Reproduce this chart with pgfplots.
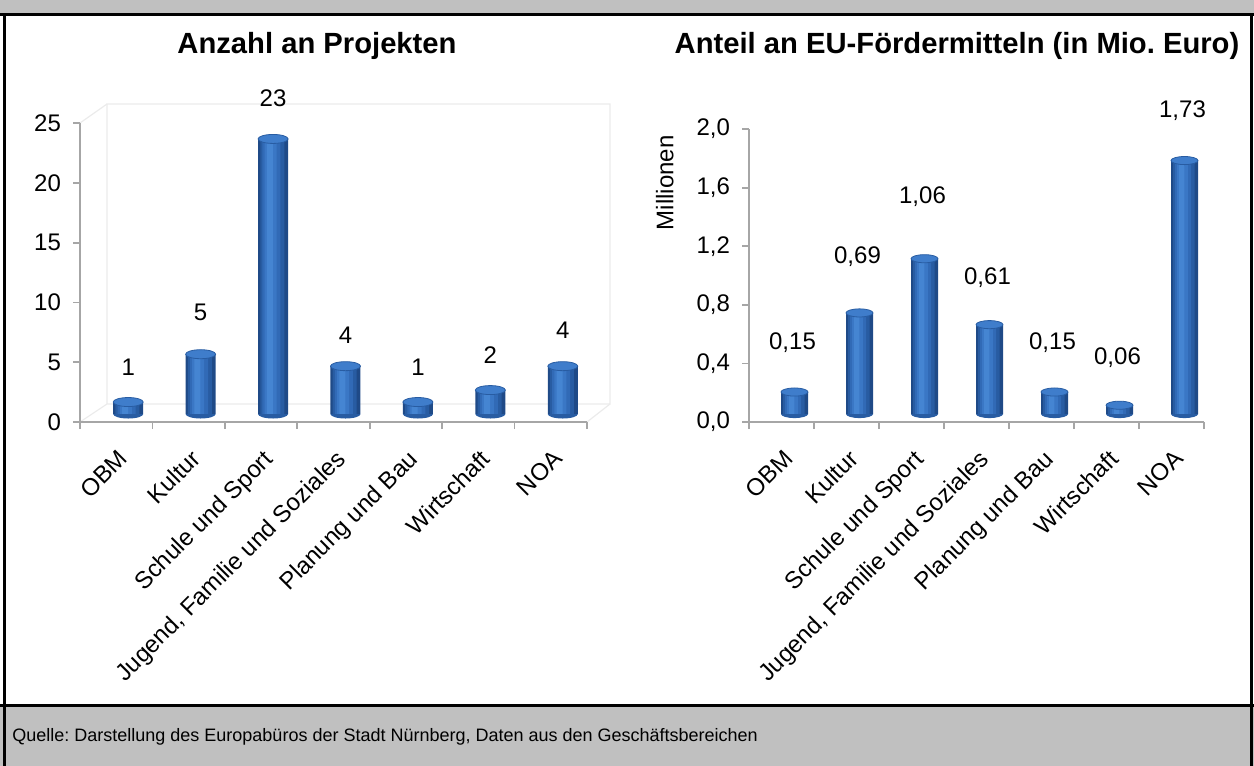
\documentclass[border=0pt]{standalone}
\usepackage{fontspec}
\setmainfont{Liberation Sans}
\usepackage{pgfplots}
\pgfplotsset{compat=1.18}
\usepackage{pgfplotstable}
\frenchspacing
\definecolor{ca}{HTML}{1F4A87}
\definecolor{cb}{HTML}{285CA2}
\definecolor{cc}{HTML}{316AB6}
\definecolor{cd}{HTML}{3A77C5}
\definecolor{ce}{HTML}{4585D2}
\definecolor{bartop}{HTML}{3F7DCB}
\definecolor{axgray}{HTML}{A6A6A6}
\definecolor{panelgray}{HTML}{C0C0C0}
\definecolor{wallgray}{HTML}{EBEBEB}

% lower half of an ellipse: the rounded bottom of a cylinder
\pgfdeclareplotmark{lowhalf}{%
  \pgfpathmoveto{\pgfqpoint{-\pgfplotmarksize}{0pt}}%
  \pgfpatharc{180}{360}{\pgfplotmarksize and 0.3\pgfplotmarksize}%
  \pgfpathclose
  \pgfusepathqfill}

% x = category index, val = value, dy = label offset above value (pt)
\pgfplotstableread{
x val dy
0 1 21.5
1 5 25
2 23 24.5
3 4 19.5
4 1 21.5
5 2 21.5
6 4 22
}\leftdata
\pgfplotstableread{
x val dy
0 0.15 28.5
1 0.69 32
2 1.06 35
3 0.61 27.5
4 0.15 28.5
5 0.06 28
6 1.73 29
}\rightdata

\newcommand\lbl{\fontsize{12}{14}\selectfont}

\pgfplotsset{
  /pgf/number format/assume math mode=true,
  common/.style={
    anchor=south west, scale only axis, clip=false,
    xmin=-0.5, xmax=6.5, ymin=0,
    axis x line*=bottom, axis y line*=left,
    axis line style={axgray, line width=0.9pt},
    xtick={0,...,6},
    xticklabels={OBM,Kultur,Schule und Sport,{Jugend, Familie und Soziales},Planung und Bau,Wirtschaft,NOA},
    minor xtick={-0.5,0.5,...,6.5},
    tick align=outside,
    major tick length=3.5pt, minor tick length=3.5pt,
    major x tick style={draw=none},
    minor x tick style={axgray, line width=0.9pt},
    y tick style={axgray, line width=0.9pt},
    tick label style={font=\lbl, black},
    yticklabel style={xshift=-2.5pt},
    xticklabel style={xshift=0.5pt, yshift=-9.5pt, rotate=45, anchor=north east, inner sep=0pt},
  },
  layer/.style={ybar, draw=none, fill=#1},
}

\begin{document}
\begin{tikzpicture}
\path[use as bounding box] (0,0) rectangle (627pt,-383pt);
\begin{scope}[x=0.5pt,y=-0.5pt]
  % frame
  \fill[panelgray] (0,0) rectangle (1254,13);
  \fill[panelgray] (0,705) rectangle (1254,766);
  \draw[line width=1.5pt] (0,14.5) -- (1254,14.5);
  \draw[line width=1.5pt] (0,705) -- (1254,705);
  \draw[line width=1.5pt] (4,14) -- (4,766);
  \draw[line width=1.5pt] (1251,14) -- (1251,766);
  % back wall of left 3D chart
  \draw[wallgray, line width=0.6pt] (80,422) -- (107,404) -- (610,404) -- (610,104) -- (107,104) -- (107,404);
  \draw[wallgray, line width=0.6pt] (80,123) -- (107,104);
  \draw[wallgray, line width=0.6pt] (587,422) -- (610,404);
  % titles
  \node[anchor=base, font=\fontsize{14.6}{17}\selectfont\bfseries] at (317,53) {Anzahl an Projekten};
  \node[anchor=base, font=\fontsize{14.6}{17}\selectfont\bfseries] at (957,53) {Anteil an EU-Fördermitteln (in Mio. Euro)};
  % source
  \node[anchor=west, font=\fontsize{9}{11}\selectfont, inner sep=0pt] at (12,737) {Quelle: Darstellung des Europabüros der Stadt Nürnberg, Daten aus den Geschäftsbereichen};
\end{scope}

% ---------- left chart ----------
\begin{axis}[common,
  at={(40pt,-211pt)}, width=253.5pt, height=149.5pt,
  ymax=25, ytick={0,5,...,25},
]
\addplot[layer=ca, bar width=15pt, xshift=6pt, yshift=4pt] table[x=x, y=val] {\leftdata};
\addplot[layer=cb, bar width=12pt, bar shift=-0.4pt, xshift=6pt, yshift=4pt] table[x=x, y=val] {\leftdata};
\addplot[layer=cc, bar width=9pt, bar shift=-0.8pt, xshift=6pt, yshift=4pt] table[x=x, y=val] {\leftdata};
\addplot[layer=cd, bar width=6pt, bar shift=-1.2pt, xshift=6pt, yshift=4pt] table[x=x, y=val] {\leftdata};
\addplot[layer=ce, bar width=3pt, bar shift=-1.6pt, xshift=6pt, yshift=4pt] table[x=x, y=val] {\leftdata};
\addplot[only marks, mark=lowhalf, mark size=7.5pt, mark options={fill=cb}, xshift=6pt, yshift=4pt]
  coordinates {(0,0) (1,0) (2,0) (3,0) (4,0) (5,0) (6,0)};
\addplot[only marks, mark=*, mark size=7.5pt, mark options={yscale=0.3, fill=bartop, draw=cb, line width=0.4pt}, xshift=6pt, yshift=4pt]
  table[x=x, y=val] {\leftdata};
\addplot[draw=none, mark=none, nodes near coords,
  visualization depends on={\thisrow{dy} \as \dy},
  every node near coord/.style={anchor=center, xshift=6pt, yshift=\dy pt, font=\lbl, black}]
  table[x=x, y=val] {\leftdata};
\end{axis}

% ---------- right chart ----------
\begin{axis}[common,
  at={(374.5pt,-211pt)}, width=227.5pt, height=146.5pt,
  ymax=2.0, ytick={0,0.4,...,2.0},
  yticklabel style={/pgf/number format/.cd, fixed, fixed zerofill, precision=1, use comma},
  ylabel={Millionen},
  ylabel style={at={(axis description cs:-0.185,0.816)}, anchor=center, font=\lbl},
]
\addplot[layer=ca, bar width=13.5pt, xshift=6.5pt, yshift=4pt] table[x=x, y=val] {\rightdata};
\addplot[layer=cb, bar width=10.8pt, bar shift=-0.35pt, xshift=6.5pt, yshift=4pt] table[x=x, y=val] {\rightdata};
\addplot[layer=cc, bar width=8.1pt, bar shift=-0.7pt, xshift=6.5pt, yshift=4pt] table[x=x, y=val] {\rightdata};
\addplot[layer=cd, bar width=5.4pt, bar shift=-1.05pt, xshift=6.5pt, yshift=4pt] table[x=x, y=val] {\rightdata};
\addplot[layer=ce, bar width=2.7pt, bar shift=-1.4pt, xshift=6.5pt, yshift=4pt] table[x=x, y=val] {\rightdata};
\addplot[only marks, mark=lowhalf, mark size=6.75pt, mark options={fill=cb}, xshift=6.5pt, yshift=4pt]
  coordinates {(0,0) (1,0) (2,0) (3,0) (4,0) (5,0) (6,0)};
\addplot[only marks, mark=*, mark size=6.75pt, mark options={yscale=0.3, fill=bartop, draw=cb, line width=0.4pt}, xshift=6.5pt, yshift=4pt]
  table[x=x, y=val] {\rightdata};
\addplot[draw=none, mark=none, nodes near coords={\pgfmathprintnumber[fixed, fixed zerofill, precision=2, use comma]{\pgfplotspointmeta}},
  visualization depends on={\thisrow{dy} \as \dy},
  every node near coord/.style={anchor=center, xshift=5.5pt, yshift=\dy pt, font=\lbl, black}]
  table[x=x, y=val] {\rightdata};
\end{axis}
\end{tikzpicture}
\end{document}
